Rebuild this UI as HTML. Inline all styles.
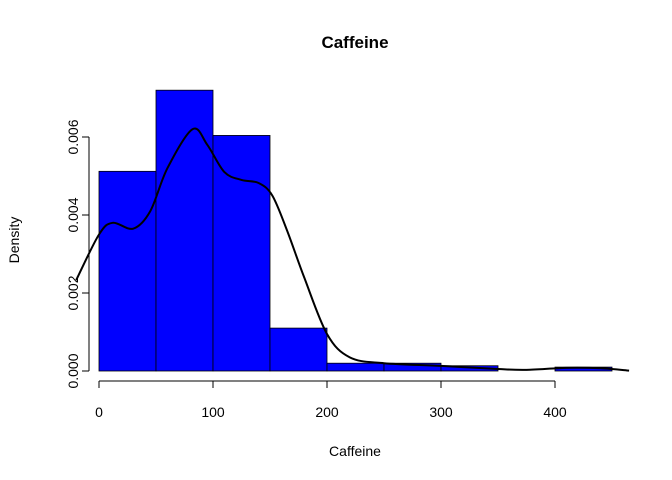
<!DOCTYPE html>
<html><head><meta charset="utf-8"><style>body{margin:0;background:#fff}svg{display:block;font-family:"Liberation Sans",Arial,sans-serif}</style></head>
<body>
<svg id="c" width="672" height="480"></svg>
<script>
const binStarts=[0,50,100,150,200,250,300,350,400];
const binWidth=50;
const densities=[0.00512,0.0072,0.00604,0.0011,0.0002,0.0002,0.000135,0,0.0001];
const curveX=[-20,0,12,30,45,60,82,95,110,125,140,152,165,180,200,220,250,300,350,375,410,440,465];
const curveY=[0.00233,0.0035,0.0038,0.00365,0.0041,0.0052,0.0062,0.0058,0.0051,0.0049,0.00482,0.0045,0.0036,0.0024,0.00095,0.00035,0.0002,0.00013,0.00005,0.00003,0.00008,0.00007,0.00001];
const xTicks=[0,100,200,300,400];
const yTicks=[0,0.002,0.004,0.006];
const yTickLabels=["0.000","0.002","0.004","0.006"];
const NS="http://www.w3.org/2000/svg";
const svg=document.getElementById('c');
const sx=v=>99+v*1.14, sy=v=>371-v*39000;
function mk(t,a,p){const e=document.createElementNS(NS,t);for(const k in a)e.setAttribute(k,a[k]);(p||svg).appendChild(e);return e;}
const clip=mk('clipPath',{id:'pc'});mk('rect',{x:59,y:59,width:572,height:331},clip);
binStarts.forEach((b,i)=>{const x0=sx(b),x1=sx(b+binWidth),y=sy(densities[i]);
const r=mk('rect',{x:x0,y:y,width:x1-x0,height:371-y,fill:densities[i]>0?'#0000ff':'none',stroke:densities[i]>0?'#000':'#888','stroke-width':0.8});

});
const pts=curveX.map((x,i)=>[sx(x),sy(curveY[i])]);
let d='M'+pts[0][0]+','+pts[0][1];
for(let i=0;i<pts.length-1;i++){const p0=pts[Math.max(0,i-1)],p1=pts[i],p2=pts[i+1],p3=pts[Math.min(pts.length-1,i+2)];
d+=' C'+(p1[0]+(p2[0]-p0[0])/6)+','+(p1[1]+(p2[1]-p0[1])/6)+' '+(p2[0]-(p3[0]-p1[0])/6)+','+(p2[1]-(p3[1]-p1[1])/6)+' '+p2[0]+','+p2[1];}
const ln=mk('path',{d:d,fill:'none',stroke:'#000','stroke-width':2,'clip-path':'url(#pc)'});


mk('line',{x1:sx(xTicks[0]),x2:sx(xTicks[xTicks.length-1]),y1:381,y2:381,stroke:'#000'});
xTicks.forEach(t=>{mk('line',{x1:sx(t),x2:sx(t),y1:381,y2:388,stroke:'#000'});
const tx=mk('text',{x:sx(t),y:417,'text-anchor':'middle','font-size':14});tx.textContent=t;

});
mk('line',{x1:89,x2:89,y1:sy(yTicks[0]),y2:sy(yTicks[yTicks.length-1]),stroke:'#000'});
yTicks.forEach((t,i)=>{const y=sy(t);mk('line',{x1:82,x2:89,y1:y,y2:y,stroke:'#000'});
const tx=mk('text',{x:78,y:y,'text-anchor':'middle','font-size':14,transform:`rotate(-90 78 ${y})`});tx.textContent=yTickLabels[i];

});
</script>
<svg style="position:absolute;left:0;top:0" width="672" height="480">
<text x="355" y="48" text-anchor="middle" font-size="17" font-weight="bold" font-family="Liberation Sans,Arial,sans-serif">Caffeine</text>
<text x="355" y="456" text-anchor="middle" font-size="14" font-family="Liberation Sans,Arial,sans-serif">Caffeine</text>
<text x="19" y="240" text-anchor="middle" font-size="14" transform="rotate(-90 19 240)" font-family="Liberation Sans,Arial,sans-serif">Density</text>
</svg>
</body></html>
